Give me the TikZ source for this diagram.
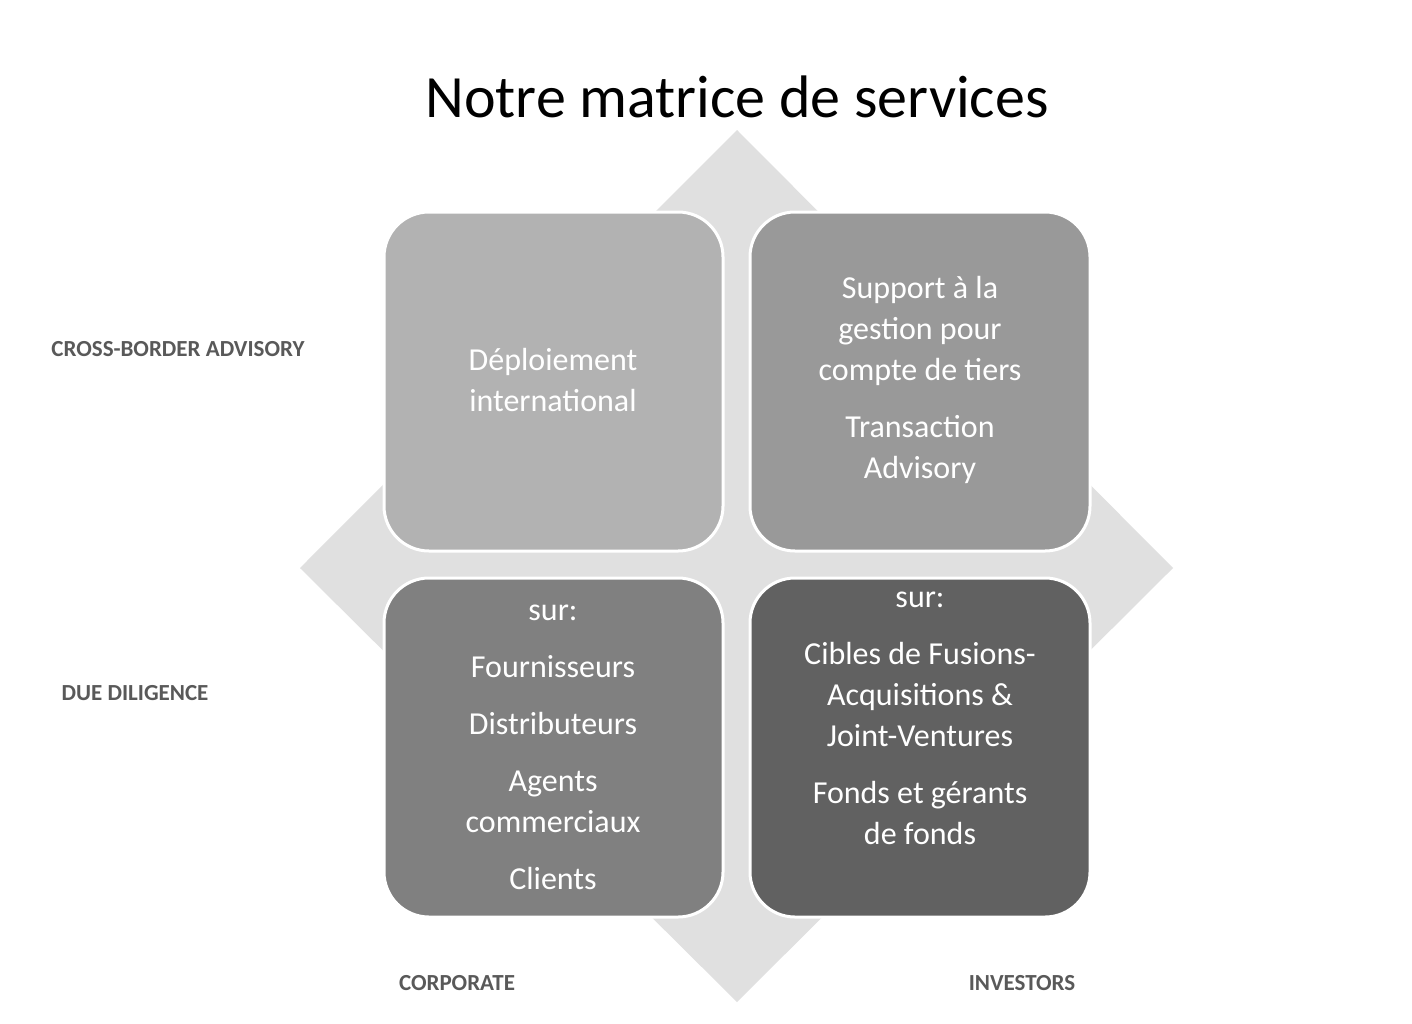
\documentclass[tikz,border=0pt]{standalone}
\usepackage{fontspec}
\setmainfont{Carlito}
\begin{document}
\begin{tikzpicture}[x=1pt,y=-1pt,
  box/.style={draw=white,line width=3pt,rounded corners=45pt},
  txt/.style={text=white,align=center,font=\fontsize{32}{41}\selectfont},
  lab/.style={text=black!65,font=\bfseries\fontsize{23}{28}\selectfont}]
\useasboundingbox[fill=white] (0,0) rectangle (1412,1023);
\fill[black!12] (737,130) coordinate (dt) -- (1173,568) coordinate (dr) -- (737,1002) coordinate (db) -- (300,568) coordinate (dl) -- cycle;
\node (title) at (737,97) {\fontsize{60}{70}\selectfont Notre matrice de services};
\filldraw[box,fill=black!30] (384,212) rectangle (723,551);
\filldraw[box,fill=black!40] (750,212) rectangle (1090,551);
\filldraw[box,fill=black!50] (384,578) rectangle (723,917);
\filldraw[box,fill=black!62] (750,578) rectangle (1090,917);
\node[txt] (tl) at (553,380) {Déploiement\\international};
\node[txt] (tr) at (920,380) {Support à la\\gestion pour\\compte de tiers\\[16pt]Transaction\\Advisory};
\node[txt] (bl) at (553,747) {sur:\\[16pt]Fournisseurs\\[16pt]Distributeurs\\[16pt]Agents\\commerciaux\\[16pt]Clients};
\node[txt] (br) at (920,718) {sur:\\[16pt]Cibles de Fusions-\\Acquisitions \&\\Joint-Ventures\\[16pt]Fonds et gérants\\de fonds};
\node[lab] (l1) at (178,349) {CROSS-BORDER ADVISORY};
\node[lab] (l2) at (135,693) {DUE DILIGENCE};
\node[lab] (l3) at (457,983) {CORPORATE};
\node[lab] (l4) at (1022,983) {INVESTORS};
\end{tikzpicture}
\end{document}
